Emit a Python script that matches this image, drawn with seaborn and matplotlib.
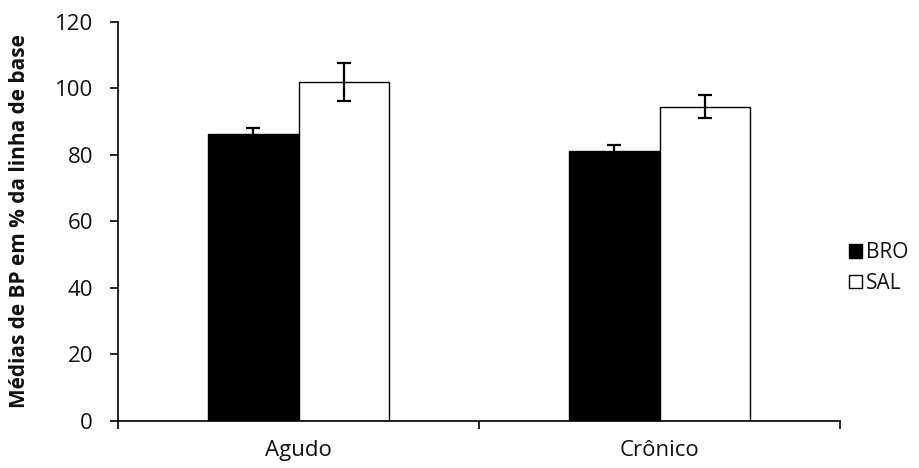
import numpy as np
import pandas as pd
import matplotlib
matplotlib.use("Agg")
import matplotlib.pyplot as plt
import seaborn as sns
from matplotlib.patches import Patch

# values
groups = ["Agudo", "Crônico"]
series = ["BRO", "SAL"]
means = {"BRO": [86.2, 81.1], "SAL": [102.0, 94.5]}
errors = {"BRO": [1.8, 1.7], "SAL": [5.7, 3.5]}
colors = {"BRO": "black", "SAL": "white"}

rows = []
for s in series:
    for g, m, e in zip(groups, means[s], errors[s]):
        rows.append({"grupo": g, "serie": s, "valor": m, "erro": e})
df = pd.DataFrame(rows)

sns.set_theme(style="white")
plt.rcParams["font.family"] = ["Open Sans", "DejaVu Sans"]
txt = "#111111"

fig = plt.figure(figsize=(9.19, 4.68), dpi=100)
ax = fig.add_axes([118 / 919, 1 - 421 / 468, (840 - 118) / 919, (421 - 21.7) / 468])

sns.barplot(
    data=df, x="grupo", y="valor", hue="serie", order=groups, hue_order=series,
    palette=colors, edgecolor="black", linewidth=1, width=0.504, errorbar=None,
    legend=False, ax=ax,
)

# error bars on top of each bar
for s, cont in zip(series, ax.containers):
    for bar, e in zip(cont, errors[s]):
        xc = bar.get_x() + bar.get_width() / 2
        ax.errorbar(xc, bar.get_height(), yerr=e, fmt="none", ecolor="black",
                    elinewidth=1.6, capsize=5, capthick=1.6)

ax.set_ylim(0, 120)
ax.set_xlim(-0.5, 1.5)
ax.set_yticks(np.arange(0, 121, 20))
ax.set_xlabel("")
ax.set_ylabel("Médias de BP em % da linha de base", fontsize=15, fontweight="bold", color=txt)
ax.yaxis.set_label_coords(-0.122, 0.5)
sns.despine(ax=ax)
for sp in ["left", "bottom"]:
    ax.spines[sp].set_color("black")
    ax.spines[sp].set_linewidth(1.2)

ax.tick_params(axis="y", which="major", direction="out", length=6, width=1.2,
               color="black", labelsize=16, labelcolor=txt, left=True, pad=12)
ax.tick_params(axis="x", which="major", length=0, labelsize=16, labelcolor=txt, pad=14)
ax.set_xticks([-0.5, 0.5, 1.5], minor=True)
ax.tick_params(axis="x", which="minor", direction="out", length=6, width=1.2,
               color="black", bottom=True)

handles = [Patch(facecolor=colors[s], edgecolor="black", linewidth=1, label=s) for s in series]
fig.legend(handles=handles, loc="center left", bbox_to_anchor=(841 / 919, 1 - 268 / 468),
           frameon=False, fontsize=15, handlelength=0.6, handleheight=0.6,
           handletextpad=0.2, labelspacing=0.45, borderaxespad=0, labelcolor=txt)

fig.savefig("out.png", dpi=100)
